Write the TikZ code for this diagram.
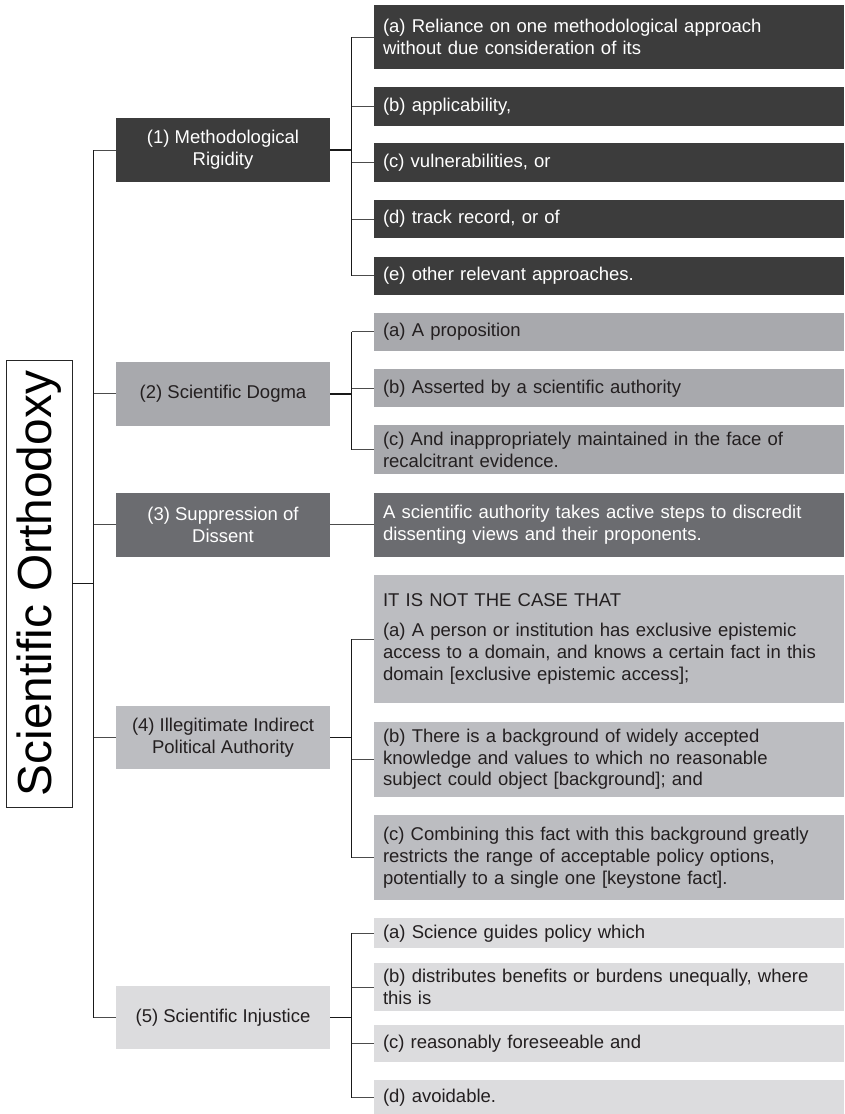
\documentclass[tikz,border=0pt]{standalone}
\usepackage{fontspec}
\setmainfont{Liberation Sans}
\definecolor{darkbox}{HTML}{3C3C3C}
\definecolor{slatebox}{HTML}{6B6C70}
\definecolor{midbox}{HTML}{A8A9AD}
\definecolor{palebox}{HTML}{BCBDC1}
\definecolor{lightbox}{HTML}{DCDCDE}
\definecolor{inkdark}{HTML}{231F20}
\tikzset{
  txt/.style={font=\fontsize{18.5}{21.8}\selectfont},
  parent/.style={txt, minimum width=214pt, inner sep=0pt, outer sep=0pt, align=center},
  child/.style={txt, text width=452pt, inner xsep=9pt, inner ysep=2pt, outer sep=0pt, align=left, anchor=west},
  ondark/.style={text=white},
  onlight/.style={text=inkdark},
  trunk/.style={line width=1.1pt, draw=black!90},
  twig/.style={line width=1pt, draw=black!70},
  stem/.style={line width=1.8pt, draw=black!90},
}
\begin{document}
\begin{tikzpicture}[x=1pt, y=-1pt]
\useasboundingbox (0,0) rectangle (844,1114);

% root
\node[draw=black!85, line width=1pt, minimum width=66pt, minimum height=447pt, inner sep=0pt, outer sep=0pt,
      font=\fontsize{47.8}{48}\selectfont] (root) at (39,583.5) {\rotatebox{90}{Scientific Orthodoxy}};

% parents
\node[parent, fill=darkbox, ondark, minimum height=64pt] (m1) at (223,150) {(1) Methodological\\Rigidity};
\node[parent, fill=midbox, onlight, minimum height=64pt] (m2) at (223,393.7) {(2) Scientific Dogma};
\node[parent, fill=slatebox, ondark, minimum height=63.7pt] (m3) at (223,524.8) {(3) Suppression of\\Dissent};
\node[parent, fill=palebox, onlight, minimum height=63.6pt] (m4) at (223,737.5) {(4) Illegitimate Indirect\\Political Authority};
\node[parent, fill=lightbox, onlight, minimum height=63.6pt] (m5) at (223,1017.5) {(5) Scientific Injustice};

% children of 1
\node[child, fill=darkbox, ondark, minimum height=64pt] (c1a) at (374,37) {(a) Reliance on one methodological approach\\without due consideration of its};
\node[child, fill=darkbox, ondark, minimum height=38.7pt] (c1b) at (374,106.3) {(b) applicability,};
\node[child, fill=darkbox, ondark, minimum height=38.7pt] (c1c) at (374,162.3) {(c) vulnerabilities, or};
\node[child, fill=darkbox, ondark, minimum height=38pt] (c1d) at (374,219) {(d) track record, or of};
\node[child, fill=darkbox, ondark, minimum height=38pt] (c1e) at (374,275.7) {(e) other relevant approaches.};

% children of 2
\node[child, fill=midbox, onlight, minimum height=38.5pt] (c2a) at (374,331.8) {(a) A proposition};
\node[child, fill=midbox, onlight, minimum height=38pt] (c2b) at (374,388.3) {(b) Asserted by a scientific authority};
\node[child, fill=midbox, onlight, minimum height=49pt] (c2c) at (374,449.8) {(c) And inappropriately maintained in the face of\\recalcitrant evidence.};

% child of 3
\node[child, fill=slatebox, ondark, minimum height=63.7pt] (c3) at (374,524.8) {A scientific authority takes active steps to discredit\\dissenting views and their proponents.};

% children of 4
\node[child, fill=palebox, onlight, minimum height=128.6pt] (c4a) at (374,639) {IT IS NOT THE CASE THAT\\[8.5pt](a) A person or institution has exclusive epistemic\\access to a domain, and knows a certain fact in this\\domain [exclusive epistemic access];};
\node[child, fill=palebox, onlight, minimum height=75.3pt] (c4b) at (374,759.3) {(b) There is a background of widely accepted\\knowledge and values to which no reasonable\\subject could object [background]; and};
\node[child, fill=palebox, onlight, minimum height=84.8pt] (c4c) at (374,857.6) {(c) Combining this fact with this background greatly\\restricts the range of acceptable policy options,\\potentially to a single one [keystone fact].};

% children of 5
\node[child, fill=lightbox, onlight, minimum height=30pt] (c5a) at (374,933.3) {(a) Science guides policy which};
\node[child, fill=lightbox, onlight, minimum height=47.7pt] (c5b) at (374,987.2) {(b) distributes benefits or burdens unequally, where\\this is};
\node[child, fill=lightbox, onlight, minimum height=37.3pt] (c5c) at (374,1043.7) {(c) reasonably foreseeable and};
\node[child, fill=lightbox, onlight, minimum height=35pt] (c5d) at (374,1097.5) {(d) avoidable.};

% trunk
\draw[stem] (root.east) -- ++(21.7,0) coordinate (t);
\draw[trunk] (t |- m1.west) -- (t |- m5.west);
\foreach \m in {m1,m2,m3,m4,m5}
  \draw[twig] (t |- \m.west) -- (\m.west);

% bus of 1
\draw[stem] (m1.east) -- ++(21.7,0) coordinate (b1);
\draw[trunk] (b1 |- c1a.west) -- (b1 |- c1e.west);
\foreach \c in {c1a,c1b,c1c,c1d,c1e}
  \draw[twig] (b1 |- \c.west) -- (\c.west);

% bus of 2
\draw[stem] (m2.east) -- ++(21.7,0) coordinate (b2);
\draw[trunk] (b2 |- c2a.west) -- (b2 |- c2c.west);
\foreach \c in {c2a,c2b,c2c}
  \draw[twig] (b2 |- \c.west) -- (\c.west);

% link of 3
\draw[twig] (m3.east) -- (c3.west);

% bus of 4
\draw[stem] (m4.east) -- ++(21.7,0) coordinate (b4);
\draw[trunk] (b4 |- c4a.west) -- (b4 |- c4c.west);
\foreach \c in {c4a,c4b,c4c}
  \draw[twig] (b4 |- \c.west) -- (\c.west);

% bus of 5
\draw[stem] (m5.east) -- ++(21.7,0) coordinate (b5);
\draw[trunk] (b5 |- c5a.west) -- (b5 |- c5d.west);
\foreach \c in {c5a,c5b,c5c,c5d}
  \draw[twig] (b5 |- \c.west) -- (\c.west);
\end{tikzpicture}
\end{document}
